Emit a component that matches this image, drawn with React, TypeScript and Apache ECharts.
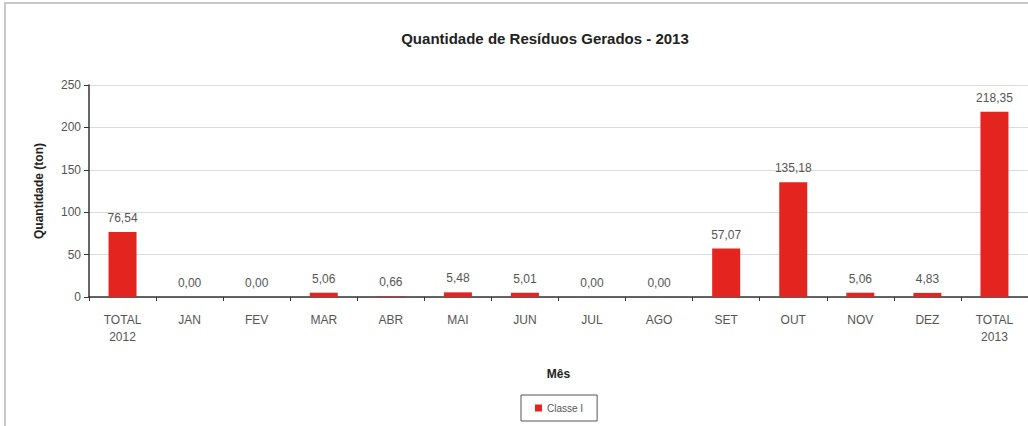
import React, { useEffect, useRef } from "react";
import * as echarts from "echarts";

const categories = ["TOTAL\n2012", "JAN", "FEV", "MAR", "ABR", "MAI", "JUN", "JUL", "AGO", "SET", "OUT", "NOV", "DEZ", "TOTAL\n2013"];
const classeI = [76.54, 0.0, 0.0, 5.06, 0.66, 5.48, 5.01, 0.0, 0.0, 57.07, 135.18, 5.06, 4.83, 218.35];
const yTicks = [0, 50, 100, 150, 200, 250];

export default function App() {
  const ref = useRef<HTMLDivElement>(null);
  useEffect(() => {
    if (!ref.current) return;
    const chart = echarts.init(ref.current, null, { renderer: "svg" });
    const font = "'Liberation Sans', Arial, sans-serif";
    chart.setOption({
      animation: false,
      backgroundColor: "#fff",
      textStyle: { fontFamily: font },
      graphic: [
        {
          type: "rect",
          shape: { x: 5, y: 3, width: 1040, height: 440 },
          style: { fill: "none", stroke: "#b8b8b8", lineWidth: 1.5 },
          z: 0,
        },
      ],
      title: {
        text: "Quantidade de Resíduos Gerados - 2013",
        left: 540,
        textAlign: "center",
        top: 26,
        textStyle: { fontFamily: font, fontSize: 15, fontWeight: "bold", color: "#222" },
      },
      legend: {
        data: ["Classe I"],
        left: 521,
        top: 395,
        icon: "rect",
        itemWidth: 7,
        itemHeight: 7,
        itemGap: 4,
        borderColor: "#555",
        borderWidth: 1,
        padding: [8, 14, 8, 14],
        textStyle: { fontFamily: font, fontSize: 10, color: "#555" },
      },
      grid: { left: 89, right: -2, top: 85, bottom: 129, containLabel: false },
      xAxis: {
        type: "category",
        data: categories,
        name: "Mês",
        nameLocation: "middle",
        nameGap: 71,
        nameTextStyle: { fontFamily: font, fontSize: 12, fontWeight: "bold", color: "#222" },
        axisLine: { lineStyle: { color: "#333", width: 1.5 } },
        axisTick: { show: true, alignWithLabel: false, length: 4, lineStyle: { color: "#333" } },
        axisLabel: { fontFamily: font, fontSize: 12, color: "#555", margin: 14, lineHeight: 17 },
      },
      yAxis: {
        type: "value",
        min: 0,
        max: yTicks[yTicks.length - 1],
        interval: 50,
        name: "Quantidade (ton)",
        nameLocation: "middle",
        nameGap: 44,
        nameRotate: 90,
        nameTextStyle: { fontFamily: font, fontSize: 12, fontWeight: "bold", color: "#222" },
        axisLine: { show: true, lineStyle: { color: "#333", width: 1.5 } },
        axisTick: { show: true, length: 5, lineStyle: { color: "#333" } },
        axisLabel: { fontFamily: font, fontSize: 12, color: "#555", margin: 8 },
        splitLine: { lineStyle: { color: "#dcdcdc" } },
      },
      series: [
        {
          name: "Classe I",
          type: "bar",
          data: classeI,
          barWidth: 28,
          itemStyle: { color: "#e3241f" },
          label: {
            show: true,
            position: "top",
            distance: 8,
            fontFamily: font,
            fontSize: 12,
            color: "#555",
            formatter: (p: any) => Number(p.value).toFixed(2).replace(".", ","),
          },
        },
      ],
    });
    return () => chart.dispose();
  }, []);
  return (
    <div
      ref={ref}
      style={{ position: "fixed", left: 0, top: 0, width: 1028, height: 426 }}
    />
  );
}
